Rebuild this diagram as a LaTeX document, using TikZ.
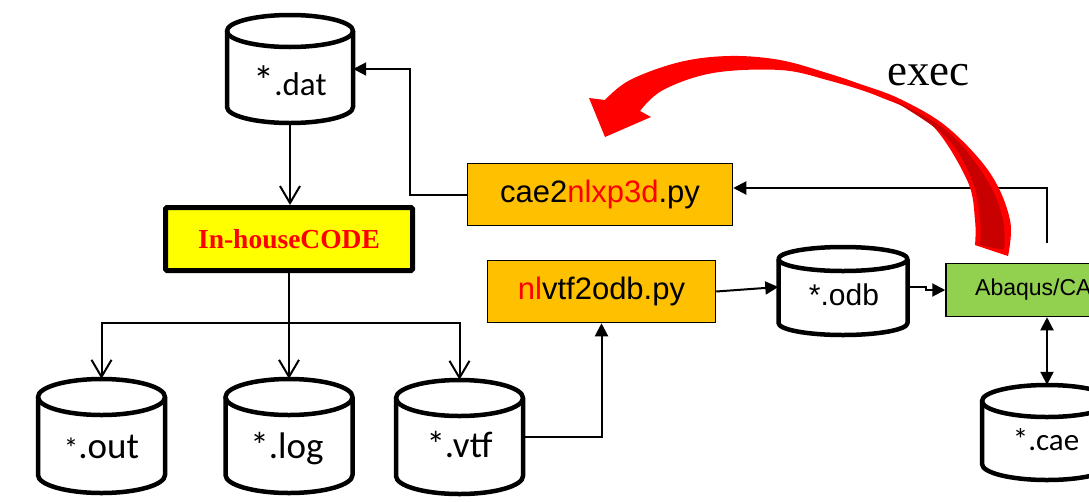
\documentclass[tikz,border=0pt]{standalone}
\usepackage{fontspec}
\setmainfont{Liberation Serif}
\newfontfamily\arialf{Liberation Sans}
\newfontfamily\calf{Carlito}
\usetikzlibrary{arrows.meta,calc}
\definecolor{boxorange}{HTML}{FFC000}
\definecolor{boxgreen}{HTML}{92D050}
\definecolor{boxyellow}{HTML}{FFFF00}
\definecolor{arrred}{HTML}{FF0000}
\definecolor{arrdark}{HTML}{C80000}
\tikzset{
  dbbox/.style={rectangle, inner sep=0pt, draw=none},
  dbline/.style={line width=4.5pt, line join=round, draw=black},
  dbtext/.style={anchor=base, inner sep=0pt, font=\calf},
  pybox/.style={rectangle, draw=black, line width=1.5pt, fill=boxorange, inner sep=0pt, font=\arialf\fontsize{31}{36}\selectfont},
  codebox/.style={rectangle, draw=black, line width=5pt, rounded corners=1.5pt, fill=boxyellow, inner sep=0pt, text=arrred, font=\rmfamily\bfseries\fontsize{27.5}{32}\selectfont},
  abqbox/.style={rectangle, draw=black, line width=1.5pt, fill=boxgreen, inner sep=0pt, font=\arialf\fontsize{23}{27}\selectfont},
  openarr/.style={line width=2pt, -{Straight Barb[length=17pt,width=20pt]}},
  fillarr/.style={line width=2pt, -{Triangle[length=13pt,width=13pt]}},
  bothfill/.style={line width=2pt, {Triangle[length=13pt,width=13pt]}-{Triangle[length=13pt,width=13pt]}},
}
% name, x, y, rx, half height, ry
\newcommand\dbcyl[6]{%
  \node[dbbox, minimum width={2*#4}, minimum height={2*#5}] (#1) at (#2,#3) {};
  \draw[dbline] ({#2-#4},{#3-#5+#6}) -- ({#2-#4},{#3+#5-#6})
     arc[start angle=180, end angle=360, x radius=#4pt, y radius=#6pt]
     -- ({#2+#4},{#3-#5+#6});
  \draw[dbline] (#2,{#3-#5+#6}) ellipse[x radius=#4pt, y radius=#6pt];
}
\begin{document}
\begin{tikzpicture}[x=1pt,y=-1pt]
\useasboundingbox (0,0) rectangle (1089,501);

% cylinders
\dbcyl{dat}{290}{69}{63}{54}{16}
\node[dbtext] (datt) at (290,95) {{\fontsize{42}{42}\selectfont *}{\fontsize{33}{36}\selectfont .dat}};
\dbcyl{out}{101.5}{436}{63.5}{57}{18}
\node[dbtext] (outt) at (101.5,458) {{\fontsize{29}{30}\selectfont *}{\fontsize{37}{40}\selectfont .out}};
\dbcyl{log}{289}{436}{63.5}{57}{18}
\node[dbtext] (logt) at (287,458) {\fontsize{37}{40}\selectfont *.log};
\dbcyl{vtf}{459.5}{437}{63.5}{57}{18}
\node[dbtext] (vtft) at (459.5,457) {\fontsize{37}{40}\selectfont *.vtf};
\dbcyl{odb}{843}{291}{64.5}{44}{12}
\node[dbtext, font=\arialf] (odbt) at (844,305) {\fontsize{30}{34}\selectfont *.odb};
\dbcyl{cae}{1047}{432.5}{65}{47.5}{16}
\node[dbtext] (caet) at (1046,450) {\fontsize{31}{36}\selectfont *.cae};

% boxes
\node[codebox, minimum width=247pt, minimum height=63pt] (code) at (289,239) {In-houseCODE};
\node[pybox, minimum width=265pt, minimum height=62pt] (cae2) at (600,194.5) {cae2\textcolor{arrred}{nlxp3d}.py};
\node[pybox, minimum width=228pt, minimum height=62pt] (nlvtf) at (601.5,291.5) {\textcolor{arrred}{nl}vtf2odb.py};
\node[abqbox, minimum width=190pt, minimum height=53pt] (abaqus) at (1041,290) {Abaqus/CAE};

% exec label
\node[anchor=base west, inner sep=0pt, font=\rmfamily\fontsize{45}{50}\selectfont] (exec) at (887,85) {exec};

% connectors
\draw[openarr] (dat.south) -- (dat.south |- code.north);
\coordinate (split) at (289,323);
\draw[openarr] (code.south) -- (code.south |- log.north);
\draw[openarr] (split) -| (out.north);
\draw[openarr] (split) -| (vtf.north);
\draw[fillarr] (vtf.east) -| (nlvtf.south);
\draw[fillarr] (nlvtf.east) -- ([yshift=4pt]odb.west);
\draw[fillarr] ([yshift=4pt]odb.east) -- ++(18,0) |- (abaqus.west);
\draw[bothfill] (abaqus.south -| cae.north) -- (cae.north);
\coordinate (execstart) at (1047,243);
\draw[fillarr] (execstart) |- ([yshift=6.5pt]cae2.east);
\draw[fillarr] (cae2.west) -- ++(-57,0) |- (dat.east);

% red curved arrow
\fill[arrred] plot[smooth, tension=0.6] coordinates {(1008,256) (1010,220) (990,173) (947,127) (900,99) (860,84) (827,73) (780,60) (730,56) (680,62) (630,80) (605,100)}
  -- (589,98) -- (605,137) -- (651,117) -- (640,111)
  -- plot[smooth, tension=0.6] coordinates {(640,111) (663,90) (713,73) (780,70) (827,80) (880,97) (930,123) (967,180) (975,220) (975,245)}
  -- cycle;
\fill[arrdark] plot[smooth, tension=0.6] coordinates {(887,97) (947,131) (987,180) (1003,220) (1004,250)}
  -- (980,245)
  -- plot[smooth, tension=0.6] coordinates {(980,245) (980,220) (972,180) (945,136) (887,97)}
  -- cycle;
\end{tikzpicture}
\end{document}
